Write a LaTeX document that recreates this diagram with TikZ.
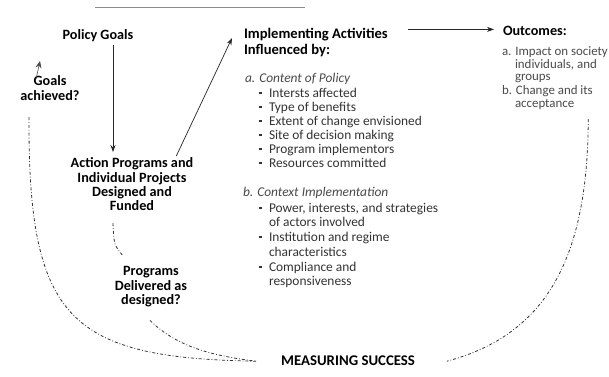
\documentclass[tikz,border=0pt]{standalone}
\usepackage{fontspec}
\setmainfont{Carlito}
\usetikzlibrary{arrows.meta,calc}
\definecolor{txt}{HTML}{333333}
\definecolor{lite}{HTML}{4A4A4A}
\begin{document}
\begin{tikzpicture}[x=1pt,y=-1pt,
  every node/.style={inner sep=0pt,outer sep=0pt},
  hd/.style={font=\fontsize{14.2}{15}\selectfont\bfseries,text=black},
  tx/.style={font=\fontsize{13.4}{14}\selectfont,text=txt,anchor=base west},
  it/.style={font=\fontsize{13.4}{14}\selectfont\itshape,text=lite,anchor=base west},
  oc/.style={font=\fontsize{12.9}{14}\selectfont,text=lite,anchor=base west},
  bl/.style={font=\fontsize{13.4}{14}\selectfont,text=txt,anchor=base west},
  arr/.style={draw=black!85,line width=0.7pt,-{Stealth[length=7pt,width=5pt]}},
  dd/.style={draw=black!80,line width=0.8pt,dash pattern=on 3pt off 2pt on 0.8pt off 2pt}]
\useasboundingbox (0,0) rectangle (609,376);
\fill[white] (0,0) rectangle (609,376);
\newcommand{\bul}{\makebox[10pt][l]{\raisebox{2.6pt}{\rule{2.6pt}{2.6pt}}}}
% scan line at top
\draw[black!45,line width=1pt] (95,7) -- (305,7);
% left column
\node[hd,anchor=base] (pg) at (98,39) {Policy Goals};
\node[hd,anchor=base] (ga1) at (50,85) {Goals};
\node[hd,anchor=base] (ga2) at (50,100) {achieved?};
\node[hd,anchor=base] (ap1) at (132,167) {Action Programs and};
\node[hd,anchor=base] (ap2) at (132,182) {Individual Projects};
\node[hd,anchor=base] (ap3) at (132,196) {Designed and};
\node[hd,anchor=base] (ap4) at (132,210) {Funded};
\node[hd,anchor=base] (pr1) at (151,275) {Programs};
\node[hd,anchor=base] (pr2) at (151,290) {Delivered as};
\node[hd,anchor=base] (pr3) at (151,304) {designed?};
% middle column
\node[hd,anchor=base west,font=\fontsize{14.6}{15}\selectfont\bfseries] (ia1) at (244,38) {Implementing Activities};
\node[hd,anchor=base west,font=\fontsize{14.6}{15}\selectfont\bfseries] (ia2) at (244,54) {Influenced by:};
\node[it] (ca) at (245,82) {a. Content of Policy};
\node[bl] (c1) at (259,97) {\bul Intersts affected};
\node[bl] (c2) at (259,111) {\bul Type of benefits};
\node[bl] (c3) at (259,125) {\bul Extent of change envisioned};
\node[bl] (c4) at (259,139) {\bul Site of decision making};
\node[bl] (c5) at (259,153) {\bul Program implementors};
\node[bl] (c6) at (259,167) {\bul Resources committed};
\node[it] (cb) at (243,196) {b. Context Implementation};
\node[bl] (d1) at (259,212) {\bul Power, interests, and strategies};
\node[tx] (d1b) at (269,226) {of actors involved};
\node[bl] (d2) at (259,241) {\bul Institution and regime};
\node[tx] (d2b) at (269,256) {characteristics};
\node[bl] (d3) at (259,271) {\bul Compliance and};
\node[tx] (d3b) at (269,285) {responsiveness};
% right column
\node[hd,anchor=base west] (oc) at (503,35) {Outcomes:};
\node[oc] (o1) at (502,55) {a. Impact on society};
\node[oc] (o2) at (515,68) {individuals, and};
\node[oc] (o3) at (515,80) {groups};
\node[oc] (o4) at (502,94) {b. Change and its};
\node[oc] (o5) at (515,107) {acceptance};
% bottom
\node[hd,anchor=base,font=\fontsize{14.8}{15}\selectfont\bfseries] (ms) at (348,365) {MEASURING SUCCESS};
% solid arrows
\draw[arr] ([xshift=15pt,yshift=-4pt]pg.south) -- ([xshift=-19pt,yshift=5pt]ap1.north);
\draw[arr] ([xshift=-17pt,yshift=1pt]ap1.north east) -- ([xshift=-12pt,yshift=0pt]ia1.base west);
\draw[arr] ([xshift=-95pt,yshift=1pt]oc.west) -- ([xshift=-9pt,yshift=1pt]oc.west);
\draw[draw=black!70,line width=0.6pt,-{Stealth[length=7pt,width=6pt]}] ([xshift=-14pt,yshift=-4pt]ga1.north) -- ([xshift=-10pt,yshift=14pt]ga1.north);
% dash-dot curves
\draw[dd] ([xshift=-21pt,yshift=-17pt]ga2.south) .. controls (28,320) and (70,358) .. ([xshift=-25pt,yshift=-1pt]ms.west);
\draw[dd] ([xshift=-19pt,yshift=-13pt]ap4.south) .. controls (114,245) .. ([xshift=-28pt,yshift=10pt]pr1.north);
\draw[dd] ([xshift=-1pt,yshift=-14pt]pr3.south) .. controls (178,348) and (215,356) .. ([xshift=-25pt,yshift=-1pt]ms.west);
\draw[dd] ([xshift=14pt,yshift=-10pt]o5.south east) .. controls (588,260) and (545,335) .. ([xshift=32pt,yshift=-1pt]ms.east);
\end{tikzpicture}
\end{document}
